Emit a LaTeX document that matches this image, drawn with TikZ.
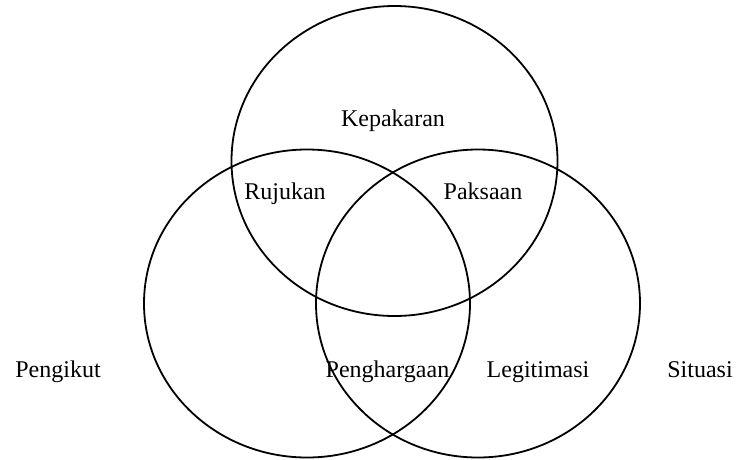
\documentclass[tikz,border=0pt]{standalone}
\usepackage{fontspec}
\setmainfont{Liberation Serif}
\begin{document}
\begin{tikzpicture}[x=1pt,y=-1pt,
  set/.style={draw=black,line width=1.8pt},
  lbl/.style={font=\fontsize{24}{29}\selectfont,inner sep=0pt,anchor=base}]
\useasboundingbox (0,0) rectangle (737,459);
\draw[set] (394.5,161) ellipse [x radius=163, y radius=155];
\draw[set] (307,303.5) ellipse [x radius=163, y radius=154];
\draw[set] (478,303.5) ellipse [x radius=162, y radius=154];
\node[lbl] (kep) at (393,126) {Kepakaran};
\node[lbl] (ruj) at (285,199) {Rujukan};
\node[lbl] (pak) at (483,199) {Paksaan};
\node[lbl] (pen) at (387.5,377) {Penghargaan};
\node[lbl] (leg) at (538,377) {Legitimasi};
\node[lbl] (pgk) at (58,377) {Pengikut};
\node[lbl] (sit) at (700,377) {Situasi};
\end{tikzpicture}
\end{document}
